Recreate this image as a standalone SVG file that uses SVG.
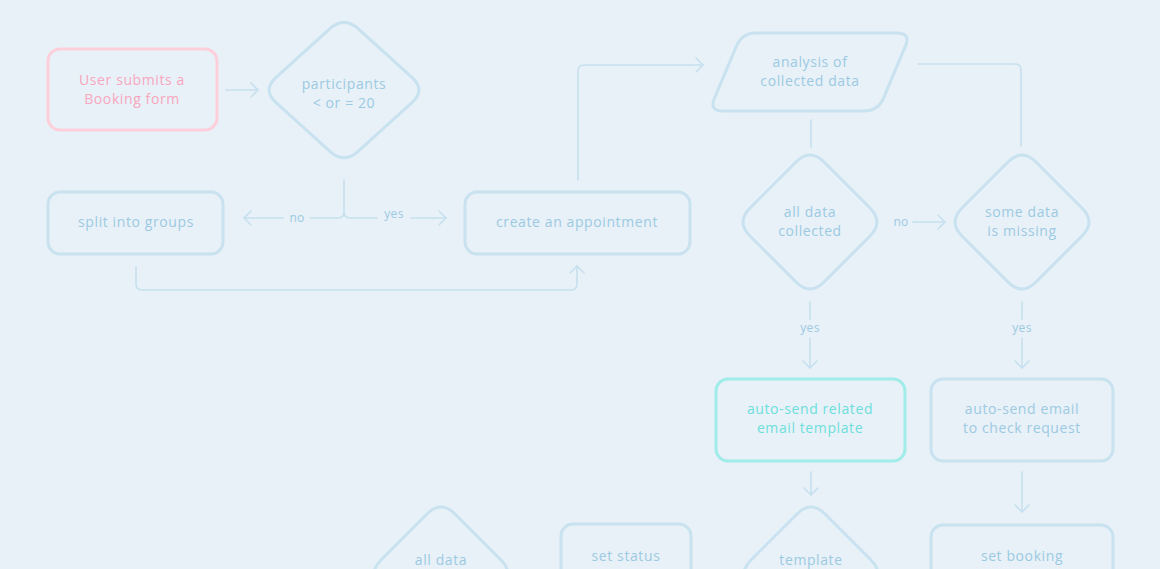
<svg xmlns="http://www.w3.org/2000/svg" width="1160" height="569" viewBox="0 0 1160 569">
<defs>
<marker id="arr" markerUnits="userSpaceOnUse" markerWidth="12" markerHeight="18" refX="8" refY="8" orient="auto">
<path d="M1,1 L8,8 L1,15" fill="none" stroke="#c6e0ee" stroke-width="1.6" stroke-linecap="round" stroke-linejoin="round"/>
</marker>
<style>
.bg{fill:#e8f1f8}
.n{fill:none;stroke:#c8e2ef;stroke-width:3}
.pink{fill:none;stroke:#fdcfdb;stroke-width:3}
.cyan{fill:none;stroke:#a0ece9;stroke-width:3}
text{font-family:"Open Sans","Liberation Sans",sans-serif;font-size:14px;letter-spacing:0.6px;fill:#9ccae2;text-anchor:middle}
.tp{fill:#f8a6bd}
.tc{fill:#6cdfdc}
.lbl{font-size:12px;letter-spacing:0.3px}
.c{fill:none;stroke:#c6e0ee;stroke-width:1.6;stroke-linecap:round}
.a{marker-end:url(#arr)}
</style>
</defs>
<rect class="bg" x="0" y="0" width="1160" height="569"/>
<g id="connectors">
<path class="c a" d="M226,90 H258"/>
<path class="c" d="M344,180 V212 Q344,218 338,218 H310"/>
<path class="c a" d="M283,218 H244"/>
<path class="c" d="M344,212 Q344,218 350,218 H377"/>
<path class="c a" d="M411,218 H446"/>
<text class="lbl" x="297" y="222">no</text>
<text class="lbl" x="394" y="218">yes</text>
<path class="c a" d="M136,267 V284 Q136,290 142,290 H571 Q577,290 577,284 V266"/>
<path class="c a" d="M578,180 V71 Q578,65 584,65 H703"/>
<path class="c" d="M918,64 H1015 Q1021,64 1021,70 V146"/>
<path class="c" d="M811,120 V147"/>
<text class="lbl" x="901" y="226">no</text>
<path class="c a" d="M913,222 H945"/>
<path class="c" d="M810,302 V319"/>
<text class="lbl" x="810" y="332">yes</text>
<path class="c a" d="M810,338 V368"/>
<path class="c" d="M1022,302 V319"/>
<text class="lbl" x="1022" y="332">yes</text>
<path class="c a" d="M1022,338 V368"/>
<path class="c a" d="M811,472 V495"/>
<path class="c a" d="M1022,472 V512"/>
</g>
<g id="n-submit">
<rect class="pink" x="48" y="49" width="169" height="81" rx="12"/>
<text class="tp" x="132" y="85">User submits a</text>
<text class="tp" x="132" y="104">Booking form</text>
</g>
<g id="n-participants">
<path class="n" d="M329.9,28.7 Q344,16 358.1,28.7 L411.9,77.3 Q426,90 411.9,102.7 L358.1,151.3 Q344,164 329.9,151.3 L276.1,102.7 Q262,90 276.1,77.3 Z"/>
<text x="344" y="89">participants</text>
<text x="344" y="108">&lt; or = 20</text>
</g>
<g id="n-split">
<rect class="n" x="48" y="192" width="175" height="62" rx="12"/>
<text x="136" y="227">split into groups</text>
</g>
<g id="n-create">
<rect class="n" x="465" y="192" width="225" height="62" rx="12"/>
<text x="577" y="227">create an appointment</text>
</g>
<g id="n-analysis">
<path class="n" d="M756,33 L897,33 Q911,33 905.5,45.9 L883.5,98.1 Q878,111 864,111 L723,111 Q709,111 714.5,98.1 L736.5,45.9 Q742,33 756,33 Z"/>
<text x="810" y="67">analysis of</text>
<text x="810" y="86">collected data</text>
</g>
<g id="n-alldata">
<path class="n" d="M796,162 Q810,148 824,162 L870,208 Q884,222 870,236 L824,282 Q810,296 796,282 L750,236 Q736,222 750,208 Z"/>
<text x="810" y="217">all data</text>
<text x="810" y="236">collected</text>
</g>
<g id="n-somedata">
<path class="n" d="M1008,162 Q1022,148 1036,162 L1082,208 Q1096,222 1082,236 L1036,282 Q1022,296 1008,282 L962,236 Q948,222 962,208 Z"/>
<text x="1022" y="217">some data</text>
<text x="1022" y="236">is missing</text>
</g>
<g id="n-autotemplate">
<rect class="cyan" x="716" y="379" width="189" height="82" rx="12"/>
<text class="tc" x="810" y="414">auto-send related</text>
<text class="tc" x="810" y="433">email template</text>
</g>
<g id="n-autocheck">
<rect class="n" x="931" y="379" width="182" height="82" rx="12"/>
<text x="1022" y="414">auto-send email</text>
<text x="1022" y="433">to check request</text>
</g>
<g id="n-template">
<path class="n" d="M797,514 Q811,500 825,514 L871,560 Q885,574 871,588 L825,634 Q811,648 797,634 L751,588 Q737,574 751,560 Z"/>
<text x="811" y="565">template</text>
</g>
<g id="n-setbooking">
<rect class="n" x="931" y="525" width="182" height="70" rx="12"/>
<text x="1022" y="561">set booking</text>
</g>
<g id="n-setstatus">
<rect class="n" x="561" y="524" width="130" height="70" rx="12"/>
<text x="626" y="561">set status</text>
</g>
<g id="n-alldata2">
<path class="n" d="M427,514 Q441,500 455,514 L501,560 Q515,574 501,588 L455,634 Q441,648 427,634 L381,588 Q367,574 381,560 Z"/>
<text x="441" y="565">all data</text>
</g>
</svg>
